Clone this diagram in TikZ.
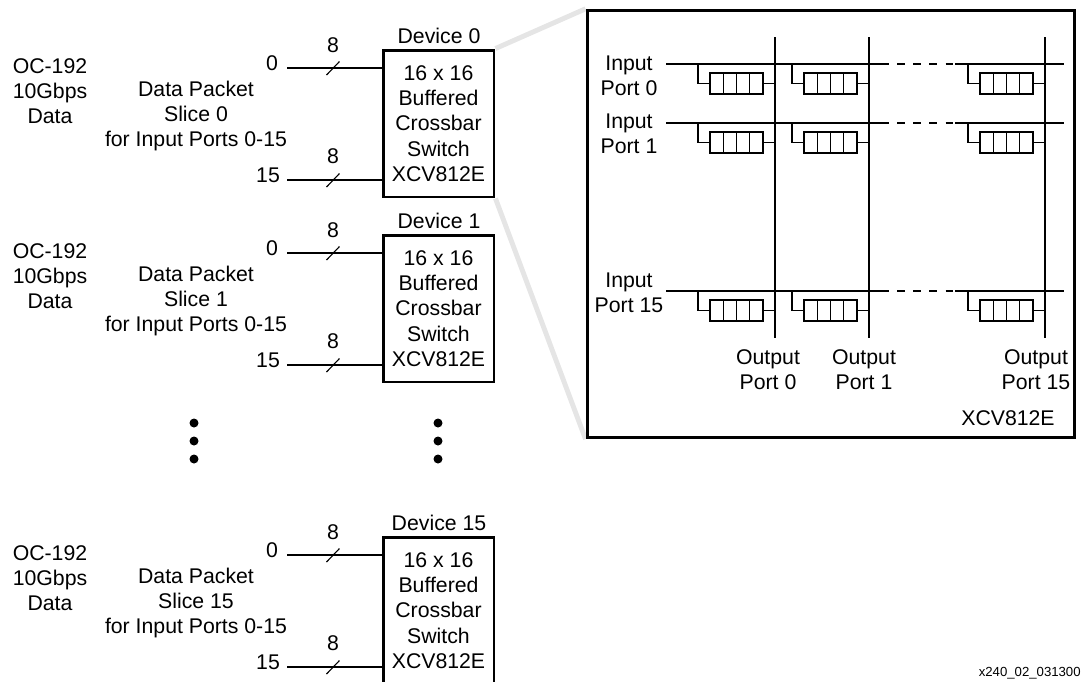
\documentclass[tikz,border=0pt]{standalone}
\usepackage{fontspec}
\setmainfont{Liberation Sans}
\usetikzlibrary{backgrounds}
\tikzset{
  lbl/.style={align=center, inner sep=0pt, font=\fontsize{12.1}{14.4}\selectfont},
  devbox/.style={lbl, draw, line width=1.7pt, minimum width=2.22cm, minimum height=2.94cm},
  chipbox/.style={draw, line width=1.7pt, minimum width=9.76cm, minimum height=8.55cm, inner sep=0pt},
  queuebox/.style={draw, line width=0.7pt, minimum width=1.06cm, minimum height=0.42cm, inner sep=0pt},
  funnel/.style={line width=2.8pt, black!10},
  wire/.style={line width=0.65pt},
  dot/.style={circle, fill=black, minimum size=0.18cm, inner sep=0pt}
}
\begin{document}
\begin{tikzpicture}[x=0.02cm,y=-0.02cm]
\useasboundingbox (0,0) rectangle (1082,681);

\foreach \dy/\n/\dev in {0/0/0,185/1/1,487/15/15}{
  \begin{scope}[shift={(0,\dy)}]
    \node[lbl] (oc\n) at (50,91) {OC-192\\10Gbps\\Data};
    \node[lbl] (slice\n) at (196,116) {Data Packet\\Slice \dev\\for Input Ports 0-15};
    \node[devbox] (dev\n) at (438.5,123.5) {16 x 16\\Buffered\\Crossbar\\Switch\\XCV812E};
    \node[lbl] (name\n) at (439,36) {Device \dev};
    \node[lbl] (first\n) at (272,63) {0};
    \node[lbl] (last\n) at (268,175) {15};
    \node[lbl] (widtha\n) at (333,45) {8};
    \node[lbl] (widthb\n) at (333,156) {8};
    \coordinate (busa\n) at (287,68);
    \coordinate (busb\n) at (287,180);
    \draw[wire] (busa\n) -- (busa\n -| dev\n.west);
    \draw[wire] (busb\n) -- (busb\n -| dev\n.west);
    \coordinate (ticka\n) at (333,68);
    \coordinate (tickb\n) at (333,180);
    \draw[wire] ([shift={(-6.5,7)}]ticka\n) -- ([shift={(6.5,-6.5)}]ticka\n);
    \draw[wire] ([shift={(-6.5,7)}]tickb\n) -- ([shift={(6.5,-6.5)}]tickb\n);
  \end{scope}
}

\node[dot] (dota1) at (194,423) {};
\node[dot] (dota2) at (194,441) {};
\node[dot] (dota3) at (194,459) {};
\node[dot] (dotb1) at (438,423) {};
\node[dot] (dotb2) at (438,441) {};
\node[dot] (dotb3) at (438,459) {};

\node[chipbox] (chip) at (831,224) {};
\begin{scope}[on background layer]
  \draw[funnel] (dev0.north east) -- (chip.north west);
  \draw[funnel] (dev0.south east) -- (chip.south west);
\end{scope}

\foreach \c/\xc in {0/775,1/869,15/1045}{
  \coordinate (outtop\c) at (\xc,37);
  \coordinate (outend\c) at (\xc,338);
  \draw[wire] (outtop\c) -- (outend\c);
}

\foreach \r/\yr/\ytext in {0/64/75.5,1/123/134,15/291/292.5}{
  \node[lbl] (inport\r) at (629,\ytext) {Input\\Port \r};
  \coordinate (ina\r) at (666,\yr);
  \coordinate (inb\r) at (889,\yr);
  \coordinate (inc\r) at (897,\yr);
  \coordinate (ind\r) at (953,\yr);
  \coordinate (ine\r) at (955,\yr);
  \coordinate (inf\r) at (1064,\yr);
  \draw[wire] (ina\r) -- (inb\r);
  \draw[wire, dash pattern=on 4.6pt off 4.6pt] (inc\r) -- (ind\r);
  \draw[wire] (ine\r) -- (inf\r);
  \foreach \c/\xq/\xs in {0/736.5/698,1/830.5/792,15/1006.5/968}{
    \node[queuebox] (q\r-\c) at (\xq,\yr+19.5) {};
    \draw[wire] (\xs,\yr) |- (q\r-\c.west);
    \draw[wire] (q\r-\c.east) -- (q\r-\c.east -| outtop\c);
    \foreach \f in {-13.25,0,13.25}
      \draw[line width=0.7pt] ([xshift=\f*0.02cm]q\r-\c.north) -- ([xshift=\f*0.02cm]q\r-\c.south);
  }
}

\node[lbl] (outport0) at (768,369.5) {Output\\Port 0};
\node[lbl] (outport1) at (864,369.5) {Output\\Port 1};
\node[lbl] (outport15) at (1036,369.5) {Output\\Port 15};
\node[lbl] (chipname) at (1008,418) {XCV812E};
\node[inner sep=0pt, anchor=east, font=\fontsize{7.5}{9}\selectfont] (figid) at (1081,673) {x240\_02\_031300};
\end{tikzpicture}
\end{document}
